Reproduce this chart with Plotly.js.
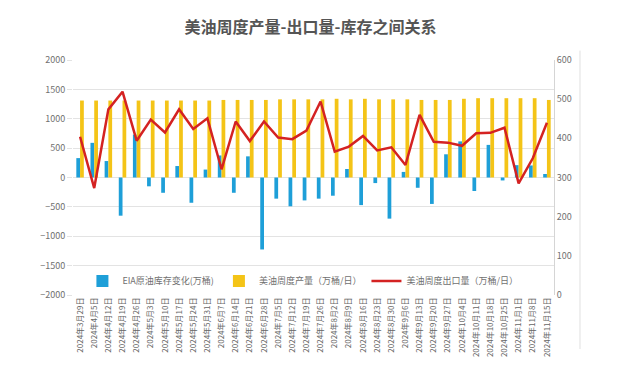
<!DOCTYPE html>
<html>
<head>
<meta charset="utf-8">
<script src="https://cdn.plot.ly/plotly-3.0.1.min.js"></script>
<style>
html,body{margin:0;padding:0;background:#fff;}
#chart{width:621px;height:366px;}
</style>
</head>
<body>
<div id="chart"></div>
<script>
const dates = ["2024年3月29日","2024年4月5日","2024年4月12日","2024年4月19日","2024年4月26日","2024年5月3日","2024年5月10日","2024年5月17日","2024年5月24日","2024年5月31日","2024年6月7日","2024年6月14日","2024年6月21日","2024年6月28日","2024年7月5日","2024年7月12日","2024年7月19日","2024年7月26日","2024年8月2日","2024年8月9日","2024年8月16日","2024年8月23日","2024年8月30日","2024年9月6日","2024年9月13日","2024年9月20日","2024年9月27日","2024年10月4日","2024年10月11日","2024年10月18日","2024年10月25日","2024年11月1日","2024年11月8日","2024年11月15日"];
const stockChange = [330,590,280,-650,730,-150,-260,195,-430,135,375,-260,360,-1225,-360,-490,-390,-360,-310,145,-470,-95,-700,95,-175,-450,395,615,-230,555,-50,210,205,60];
const production = [1310,1310,1310,1310,1310,1310,1310,1310,1310,1310,1320,1320,1320,1320,1330,1330,1330,1330,1340,1330,1340,1330,1330,1330,1320,1320,1320,1340,1350,1350,1350,1350,1350,1320];
const exports = [404,273,474,519,394,448,415,474,424,451,321,443,393,443,402,398,420,494,366,379,406,369,377,332,460,391,389,381,413,414,427,285,349,440];

const traces = [
  {type:'bar', name:'EIA原油库存变化(万桶)', x:dates, y:stockChange, marker:{color:'#1e9fd8'}, yaxis:'y'},
  {type:'bar', name:'美油周度产量（万桶/日）', x:dates, y:production, marker:{color:'#f4c417'}, yaxis:'y'},
  {type:'scatter', mode:'lines', name:'美油周度出口量（万桶/日）', x:dates, y:exports, line:{color:'#d42222', width:2.5}, yaxis:'y2'}
];

const tickFont = {family:'"Noto Sans CJK SC", "Noto Sans", sans-serif', size:9, color:'#707070'};

const layout = {
  width:621, height:366,
  margin:{l:73, r:67, t:60, b:71},
  paper_bgcolor:'#fff', plot_bgcolor:'#fff',
  title:{text:'<b>美油周度产量-出口量-库存之间关系</b>', x:0.5, xanchor:'center', y:0.925, yanchor:'middle',
         font:{family:'"Noto Sans CJK SC", sans-serif', size:16, color:'#555555'}},
  barmode:'group', bargap:0.47, bargroupgap:0,
  xaxis:{type:'category', tickangle:-90, tickfont:{family:'"Noto Sans CJK SC", sans-serif', size:8, color:'#666'},
         showgrid:false, zeroline:false, showline:false, ticks:'', automargin:false},
  yaxis:{range:[-2000,2000], dtick:500, tickfont:tickFont, gridcolor:'#e3e3e3', gridwidth:1,
         zeroline:false, showline:false, ticks:'outside', ticklen:5, tickcolor:'#e3e3e3', automargin:false},
  yaxis2:{range:[0,600], dtick:100, overlaying:'y', side:'right', tickfont:tickFont, showgrid:false,
          zeroline:false, showline:true, linecolor:'#d5d5d5', linewidth:1, ticks:'', ticklen:0, automargin:false},
  legend:{orientation:'h', x:0.478, xanchor:'center', y:0.06, yanchor:'middle',
          font:{family:'"Noto Sans CJK SC", sans-serif', size:9, color:'#707070'}, bgcolor:'rgba(0,0,0,0)',
          itemwidth:30, tracegroupgap:0},
  shapes:[{type:'line', xref:'paper', yref:'paper', x0:1.054, x1:1.054, y0:-0.23, y1:1.04, line:{color:'#e0e0e0', width:1}}],
  showlegend:true
};

Plotly.newPlot('chart', traces, layout, {displayModeBar:false, staticPlot:true});
</script>
</body>
</html>
